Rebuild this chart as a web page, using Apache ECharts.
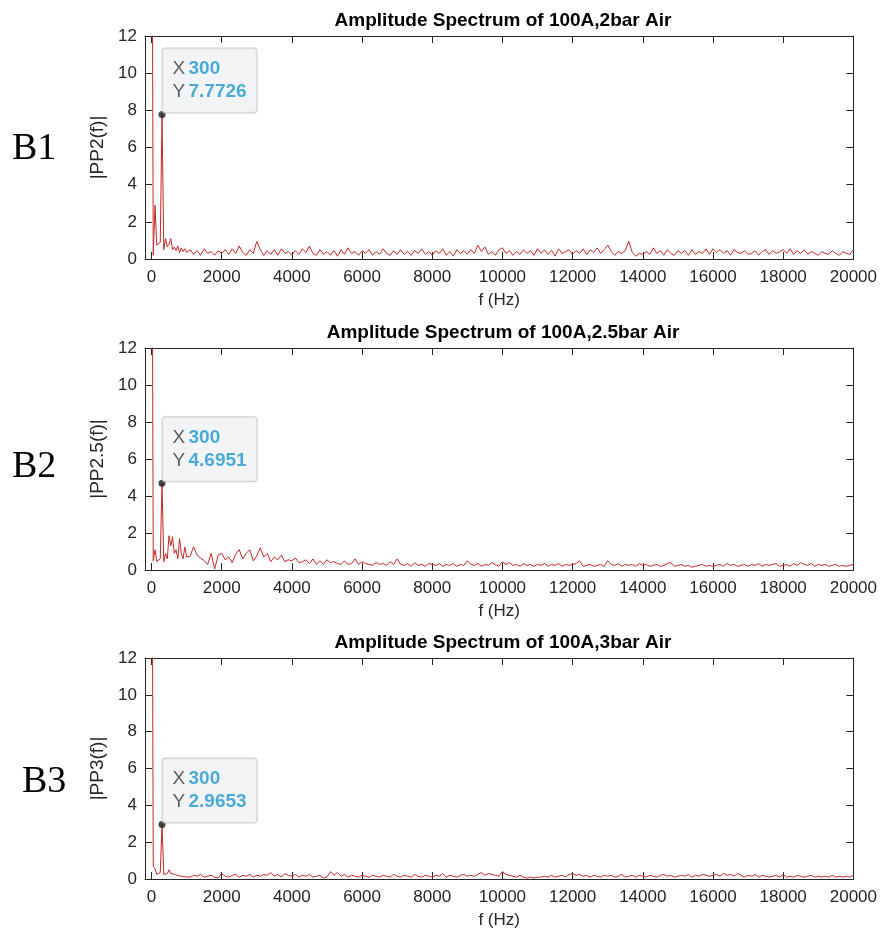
<!DOCTYPE html>
<html>
<head>
<meta charset="utf-8">
<script src="https://cdn.jsdelivr.net/npm/echarts@6/dist/echarts.min.js"></script>
<style>
  html, body { margin: 0; padding: 0; background: #fff; }
  #chart { width: 880px; height: 933px; }
</style>
</head>
<body>
<div id="chart"></div>
<script>
// ---------------- DATA ----------------
// frequency bins (Hz): 50 Hz steps up to 1000 Hz, then 100 Hz steps to 20000 Hz
const freq = [];
for (let f = 0; f <= 1000; f += 50) freq.push(f);
for (let f = 1100; f <= 20000; f += 100) freq.push(f);

const titles = [
  'Amplitude Spectrum of 100A,2bar Air',
  'Amplitude Spectrum of 100A,2.5bar Air',
  'Amplitude Spectrum of 100A,3bar Air'
];
const yNames = ['|PP2(f)|', '|PP2.5(f)|', '|PP3(f)|'];
const panelLabels = ['B1', 'B2', 'B3'];
const xTicks = [0, 2000, 4000, 6000, 8000, 10000, 12000, 14000, 16000, 18000, 20000];
const tipX = [300, 300, 300];
const tipY = [7.7726, 4.6951, 2.9653];

// |PP2(f)|  (B1)
const amp1 = [
  30, 0.2, 2.9, 0.75, 0.7, 0.9, 7.7726, 0.5, 1.1, 0.65, 0.8, 1.1, 0.5, 0.65, 0.45, 0.7, 0.35, 0.6, 0.4, 0.55, 0.35,
  0.5, 0.25, 0.45, 0.2, 0.55, 0.3, 0.4, 0.2, 0.45, 0.3,
  0.5, 0.25, 0.55, 0.3, 0.7, 0.35, 0.2, 0.5, 0.3, 0.95,
  0.5, 0.2, 0.45, 0.25, 0.5, 0.2, 0.55, 0.3, 0.4, 0.2,
  0.45, 0.25, 0.55, 0.35, 0.7, 0.3, 0.2, 0.5, 0.25, 0.4,
  0.2, 0.45, 0.15, 0.5, 0.25, 0.6, 0.3, 0.4, 0.2, 0.45,
  0.3, 0.5, 0.2, 0.4, 0.25, 0.55, 0.3, 0.2, 0.45, 0.25,
  0.5, 0.25, 0.4, 0.2, 0.45, 0.3, 0.55, 0.25, 0.4, 0.2,
  0.45, 0.3, 0.55, 0.2, 0.4, 0.15, 0.5, 0.3, 0.45, 0.25,
  0.5, 0.3, 0.75, 0.4, 0.65, 0.25, 0.4, 0.2, 0.5, 0.6,
  0.3, 0.45, 0.2, 0.4, 0.25, 0.5, 0.3, 0.45, 0.2, 0.55,
  0.3, 0.5, 0.25, 0.45, 0.15, 0.55, 0.3, 0.4, 0.5, 0.25,
  0.45, 0.3, 0.55, 0.25, 0.5, 0.35, 0.6, 0.3, 0.5, 0.75,
  0.4, 0.2, 0.4, 0.3, 0.45, 0.95, 0.35, 0.15, 0.3, 0.25,
  0.4, 0.25, 0.6, 0.3, 0.45, 0.2, 0.5, 0.3, 0.2, 0.45,
  0.3, 0.45, 0.2, 0.5, 0.25, 0.4, 0.3, 0.55, 0.25, 0.55,
  0.35, 0.5, 0.3, 0.45, 0.2, 0.5, 0.35, 0.3, 0.45, 0.25,
  0.3, 0.45, 0.2, 0.4, 0.5, 0.25, 0.45, 0.3, 0.4, 0.5,
  0.3, 0.55, 0.25, 0.45, 0.3, 0.5, 0.25, 0.4, 0.3, 0.2,
  0.4, 0.3, 0.25, 0.45, 0.3, 0.2, 0.4, 0.3, 0.25, 0.5
];

// |PP2.5(f)|  (B2)
const amp2 = [
  30, 0.5, 1.1, 0.45, 0.5, 0.6, 4.6951, 0.45, 0.9, 0.6, 1.85, 1.3, 1.8, 0.9, 1.1, 0.6, 1.7, 0.9, 0.6, 1.25, 0.7,
  0.75, 1.25, 0.8, 0.65, 0.5, 0.3, 0.9, 0.05, 0.8, 0.9,
  0.55, 0.7, 0.4, 0.85, 1.1, 0.6, 0.9, 1.1, 0.5, 0.75,
  1.2, 0.7, 0.9, 0.45, 0.7, 0.55, 0.8, 0.45, 0.55, 0.5,
  0.65, 0.4, 0.45, 0.55, 0.35, 0.6, 0.3, 0.5, 0.3, 0.55,
  0.4, 0.45, 0.35, 0.3, 0.5, 0.3, 0.35, 0.6, 0.3, 0.45,
  0.35, 0.3, 0.25, 0.4, 0.3, 0.35, 0.25, 0.45, 0.3, 0.6,
  0.3, 0.25, 0.35, 0.2, 0.4, 0.25, 0.3, 0.2, 0.35, 0.3,
  0.25, 0.35, 0.2, 0.3, 0.25, 0.35, 0.2, 0.3, 0.25, 0.5,
  0.3, 0.25, 0.35, 0.2, 0.3, 0.25, 0.4, 0.3, 0.2, 0.45,
  0.3, 0.4, 0.25, 0.3, 0.2, 0.35, 0.25, 0.3, 0.2, 0.3,
  0.25, 0.35, 0.2, 0.3, 0.25, 0.35, 0.2, 0.3, 0.25, 0.3,
  0.35, 0.5, 0.2, 0.25, 0.3, 0.2, 0.25, 0.3, 0.2, 0.5,
  0.3, 0.25, 0.35, 0.2, 0.3, 0.25, 0.3, 0.2, 0.35, 0.25,
  0.3, 0.2, 0.25, 0.3, 0.2, 0.25, 0.35, 0.4, 0.2, 0.25,
  0.3, 0.2, 0.25, 0.15, 0.2, 0.25, 0.3, 0.2, 0.25, 0.2,
  0.25, 0.3, 0.2, 0.35, 0.25, 0.3, 0.2, 0.25, 0.3, 0.2,
  0.3, 0.25, 0.35, 0.2, 0.3, 0.25, 0.3, 0.35, 0.2, 0.25,
  0.3, 0.2, 0.35, 0.25, 0.4, 0.3, 0.25, 0.35, 0.2, 0.3,
  0.25, 0.3, 0.2, 0.25, 0.3, 0.2, 0.25, 0.2, 0.25, 0.3
];

// |PP3(f)|  (B3)
const amp3 = [
  30, 0.7, 0.55, 0.25, 0.3, 0.35, 2.9653, 0.25, 0.35, 0.3, 0.5, 0.3, 0.4, 0.25, 0.35, 0.2, 0.2, 0.15, 0.2, 0.12, 0.15,
  0.1, 0.2, 0.15, 0.25, 0.1, 0.15, 0.2, 0.1, 0.05, 0.3,
  0.15, 0.1, 0.2, 0.25, 0.1, 0.2, 0.15, 0.25, 0.1, 0.2,
  0.15, 0.25, 0.2, 0.35, 0.15, 0.25, 0.1, 0.3, 0.2, 0.15,
  0.25, 0.1, 0.2, 0.15, 0.25, 0.1, 0.15, 0.2, 0.05, 0.1,
  0.4, 0.2, 0.35, 0.15, 0.25, 0.1, 0.2, 0.15, 0.1, 0.2,
  0.15, 0.1, 0.2, 0.15, 0.1, 0.2, 0.15, 0.1, 0.25, 0.15,
  0.1, 0.2, 0.15, 0.1, 0.25, 0.15, 0.1, 0.2, 0.15, 0.1,
  0.2, 0.15, 0.3, 0.1, 0.2, 0.15, 0.1, 0.2, 0.25, 0.15,
  0.2, 0.15, 0.25, 0.35, 0.2, 0.3, 0.25, 0.2, 0.15, 0.4,
  0.25, 0.2, 0.15, 0.1, 0.2, 0.1, 0.05, 0.1, 0.05, 0.1,
  0.1, 0.15, 0.1, 0.2, 0.1, 0.15, 0.2, 0.1, 0.25, 0.3,
  0.2, 0.25, 0.15, 0.2, 0.1, 0.2, 0.15, 0.1, 0.2, 0.15,
  0.2, 0.1, 0.15, 0.25, 0.1, 0.15, 0.2, 0.1, 0.2, 0.15,
  0.1, 0.2, 0.15, 0.1, 0.2, 0.25, 0.15, 0.2, 0.1, 0.15,
  0.2, 0.15, 0.25, 0.1, 0.2, 0.15, 0.25, 0.2, 0.15, 0.2,
  0.25, 0.15, 0.3, 0.2, 0.25, 0.15, 0.3, 0.2, 0.1, 0.2,
  0.15, 0.25, 0.1, 0.2, 0.15, 0.1, 0.15, 0.2, 0.1, 0.25,
  0.1, 0.15, 0.1, 0.2, 0.15, 0.1, 0.15, 0.2, 0.1, 0.15,
  0.1, 0.15, 0.1, 0.2, 0.1, 0.15, 0.1, 0.15, 0.1, 0.2
];
const amps = [amp1, amp2, amp3];

// ---------------- LAYOUT / STYLE ----------------
const FONT = "'Liberation Sans', Arial, Helvetica, sans-serif";
const AXIS_COLOR = '#262626';
const LINE_COLOR = '#c82828';
const gridTops = [36, 348, 658];
const gridHeights = [223, 222, 221];
const titleY = [21, 333, 643];
const bLabelPos = [[12, 149], [12, 467], [22, 782]];

const grids = [], xAxes = [], yAxes = [], series = [], graphics = [];

for (let i = 0; i < 3; i++) {
  grids.push({ left: 145, right: 25, top: gridTops[i], height: gridHeights[i], containLabel: false });

  // bottom x axis
  xAxes.push({
    type: 'value', gridIndex: i, min: -185, max: 20000, position: 'bottom',
    name: 'f (Hz)', nameLocation: 'middle', nameGap: 33,
    nameTextStyle: { color: AXIS_COLOR, fontSize: 17, fontFamily: FONT },
    axisLine: { show: true, onZero: false, lineStyle: { color: AXIS_COLOR, width: 1 } },
    axisTick: { show: true, inside: true, length: 7, customValues: xTicks, lineStyle: { color: AXIS_COLOR } },
    axisLabel: { show: true, margin: 10, color: AXIS_COLOR, fontSize: 17, fontFamily: FONT,
                 customValues: xTicks, formatter: v => String(v) },
    splitLine: { show: false }
  });
  // top x axis (box)
  xAxes.push({
    type: 'value', gridIndex: i, min: -185, max: 20000, position: 'top',
    axisLine: { show: true, onZero: false, lineStyle: { color: AXIS_COLOR, width: 1 } },
    axisTick: { show: true, inside: true, length: 7, customValues: xTicks, lineStyle: { color: AXIS_COLOR } },
    axisLabel: { show: false },
    splitLine: { show: false }
  });
  // left y axis
  yAxes.push({
    type: 'value', gridIndex: i, min: 0, max: 12, interval: 2, position: 'left',
    name: yNames[i], nameLocation: 'middle', nameGap: 36, nameRotate: 90,
    nameTextStyle: { color: AXIS_COLOR, fontSize: 19, fontFamily: FONT },
    axisLine: { show: true, onZero: false, lineStyle: { color: AXIS_COLOR, width: 1 } },
    axisTick: { show: true, inside: true, length: 7, lineStyle: { color: AXIS_COLOR } },
    axisLabel: { show: true, margin: 8, color: AXIS_COLOR, fontSize: 17, fontFamily: FONT },
    splitLine: { show: false }
  });
  // right y axis (box)
  yAxes.push({
    type: 'value', gridIndex: i, min: 0, max: 12, interval: 2, position: 'right',
    axisLine: { show: true, onZero: false, lineStyle: { color: AXIS_COLOR, width: 1 } },
    axisTick: { show: true, inside: true, length: 7, lineStyle: { color: AXIS_COLOR } },
    axisLabel: { show: false },
    splitLine: { show: false }
  });

  series.push({
    type: 'line', xAxisIndex: 2 * i, yAxisIndex: 2 * i,
    data: freq.map((f, k) => [f, amps[i][k]]),
    showSymbol: false, symbol: 'none', clip: true,
    lineStyle: { color: LINE_COLOR, width: 1 },
    silent: true, animation: false
  });

  series.push({
    type: 'scatter', xAxisIndex: 2 * i, yAxisIndex: 2 * i,
    data: [[tipX[i], tipY[i]]],
    symbol: 'circle', symbolSize: 7,
    itemStyle: { color: '#1a1a1a' },
    z: 5, silent: true, animation: false,
    label: {
      show: true,
      position: [4, 1.5],
      align: 'left', verticalAlign: 'bottom',
      backgroundColor: '#eff1f4',
      borderColor: '#c0c0c0', borderWidth: 1, borderRadius: 3,
      padding: [9, 10, 9, 10],
      formatter: () => '{k|X} {v|' + tipX[i] + '}\n{k|Y} {v|' + tipY[i] + '}',
      rich: {
        k: { color: '#3a3a3a', fontSize: 19, fontFamily: FONT, lineHeight: 23 },
        v: { color: '#1f97d2', fontSize: 19, fontWeight: 'bold', fontFamily: FONT, lineHeight: 23 }
      }
    }
  });

  graphics.push({
    type: 'text', x: 503, y: titleY[i],
    style: { text: titles[i], font: 'bold 19px ' + FONT, fill: '#000', textAlign: 'center', textVerticalAlign: 'middle' }
  });
  graphics.push({
    type: 'text', x: bLabelPos[i][0], y: bLabelPos[i][1],
    style: { text: panelLabels[i], font: "38px 'Liberation Serif', 'Times New Roman', serif", fill: '#000', textAlign: 'left', textVerticalAlign: 'middle' }
  });
}

const chart = echarts.init(document.getElementById('chart'), null, { renderer: 'canvas' });
chart.setOption({
  animation: false,
  backgroundColor: '#ffffff',
  grid: grids,
  xAxis: xAxes,
  yAxis: yAxes,
  series: series,
  graphic: graphics
});
</script>
</body>
</html>
